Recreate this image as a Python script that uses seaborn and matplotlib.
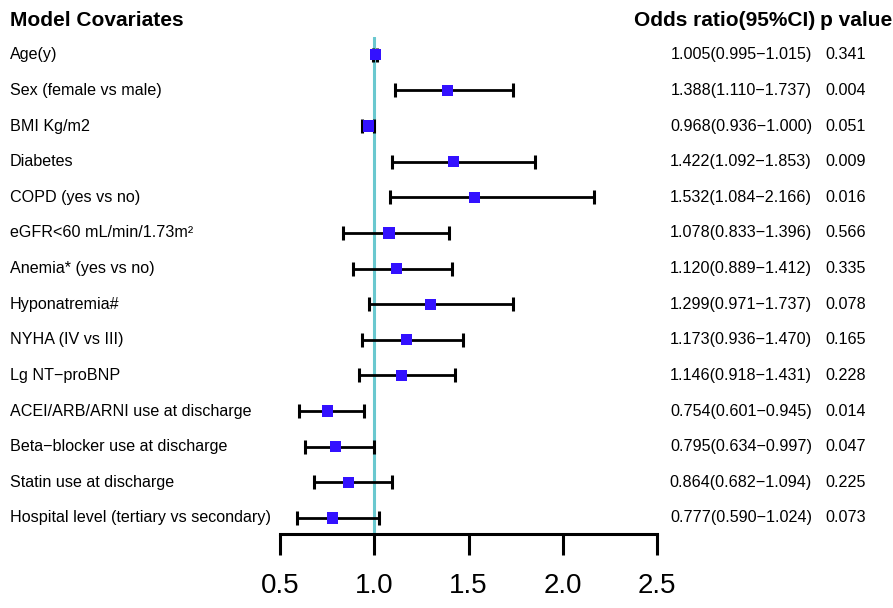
import pandas as pd
import seaborn as sns
import matplotlib.pyplot as plt
from matplotlib.transforms import blended_transform_factory

# data
covariates = ['Age(y)', 'Sex (female vs male)', 'BMI Kg/m2', 'Diabetes', 'COPD (yes vs no)',
              'eGFR<60 mL/min/1.73m²', 'Anemia* (yes vs no)', 'Hyponatremia#', 'NYHA (IV vs III)',
              'Lg NT\u2212proBNP', 'ACEI/ARB/ARNI use at discharge', 'Beta\u2212blocker use at discharge',
              'Statin use at discharge', 'Hospital level (tertiary vs secondary)']
odds = [1.005, 1.388, 0.968, 1.422, 1.532, 1.078, 1.120, 1.299, 1.173, 1.146, 0.754, 0.795, 0.864, 0.777]
lower = [0.995, 1.110, 0.936, 1.092, 1.084, 0.833, 0.889, 0.971, 0.936, 0.918, 0.601, 0.634, 0.682, 0.590]
upper = [1.015, 1.737, 1.000, 1.853, 2.166, 1.396, 1.412, 1.737, 1.470, 1.431, 0.945, 0.997, 1.094, 1.024]
pvals = ['0.341', '0.004', '0.051', '0.009', '0.016', '0.566', '0.335', '0.078', '0.165', '0.228',
         '0.014', '0.047', '0.225', '0.073']
xticks = [0.5, 1.0, 1.5, 2.0, 2.5]


def main() -> None:
    df = pd.DataFrame({'cov': covariates, 'or': odds, 'lo': lower, 'hi': upper, 'p': pvals})
    df['row'] = range(len(df))

    sns.set_theme(style='white')
    plt.rcParams['font.family'] = ['Liberation Sans', 'DejaVu Sans']
    plt.rcParams['text.color'] = 'black'
    plt.rcParams['xtick.color'] = 'black'

    fig = plt.figure(figsize=(8.93, 6.08), dpi=100)
    W, H = 893, 608
    ax = fig.add_axes([280 / W, (H - 534) / H, 377 / W, 497 / H])

    ax.axvline(1.0, color='#6ac8cf', lw=2.2, zorder=1)
    ax.errorbar(df['or'], df['row'], xerr=[df['or'] - df['lo'], df['hi'] - df['or']],
                fmt='none', ecolor='black', elinewidth=2.0, capsize=5, capthick=2.2, zorder=2)
    sns.scatterplot(data=df, x='or', y='row', marker='s', color='#3311ff', s=65,
                    edgecolor='none', zorder=3, ax=ax, legend=False)

    ax.set_xlim(0.5, 2.5)
    ax.set_ylim(13.45, -0.5)
    ax.set_xticks(xticks)
    ax.set_xticklabels([f'{t:.1f}' for t in xticks], fontsize=20)
    ax.set_yticks([])
    ax.set_xlabel('')
    ax.set_ylabel('')
    for s in ['left', 'top', 'right']:
        ax.spines[s].set_visible(False)
    ax.spines['bottom'].set_linewidth(2.2)
    ax.spines['bottom'].set_color('black')
    ax.tick_params(axis='x', direction='out', length=15, width=2.2, pad=13, colors='black',
                   bottom=True)
    ax.patch.set_alpha(0)

    tr = blended_transform_factory(fig.transFigure, ax.transData)
    for _, r in df.iterrows():
        fig.text(10 / W, r['row'], r['cov'], transform=tr, fontsize=11.6, va='center', ha='left')
        fig.text(741 / W, r['row'], f"{r['or']:.3f}({r['lo']:.3f}\u2212{r['hi']:.3f})",
                 transform=tr, fontsize=11.6, va='center', ha='center')
        fig.text(846 / W, r['row'], r['p'], transform=tr, fontsize=11.6, va='center', ha='center')

    head_y = 1 - 20 / H
    fig.text(10 / W, head_y, 'Model Covariates', fontsize=15, fontweight='bold', va='center')
    fig.text(815 / W, head_y, 'Odds ratio(95%CI)', fontsize=15, fontweight='bold', va='center', ha='right')
    fig.text(820 / W, head_y, 'p value', fontsize=15, fontweight='bold', va='center', ha='left')

    fig.savefig('out.png', dpi=100, facecolor='white')


if __name__ == "__main__":
    main()
